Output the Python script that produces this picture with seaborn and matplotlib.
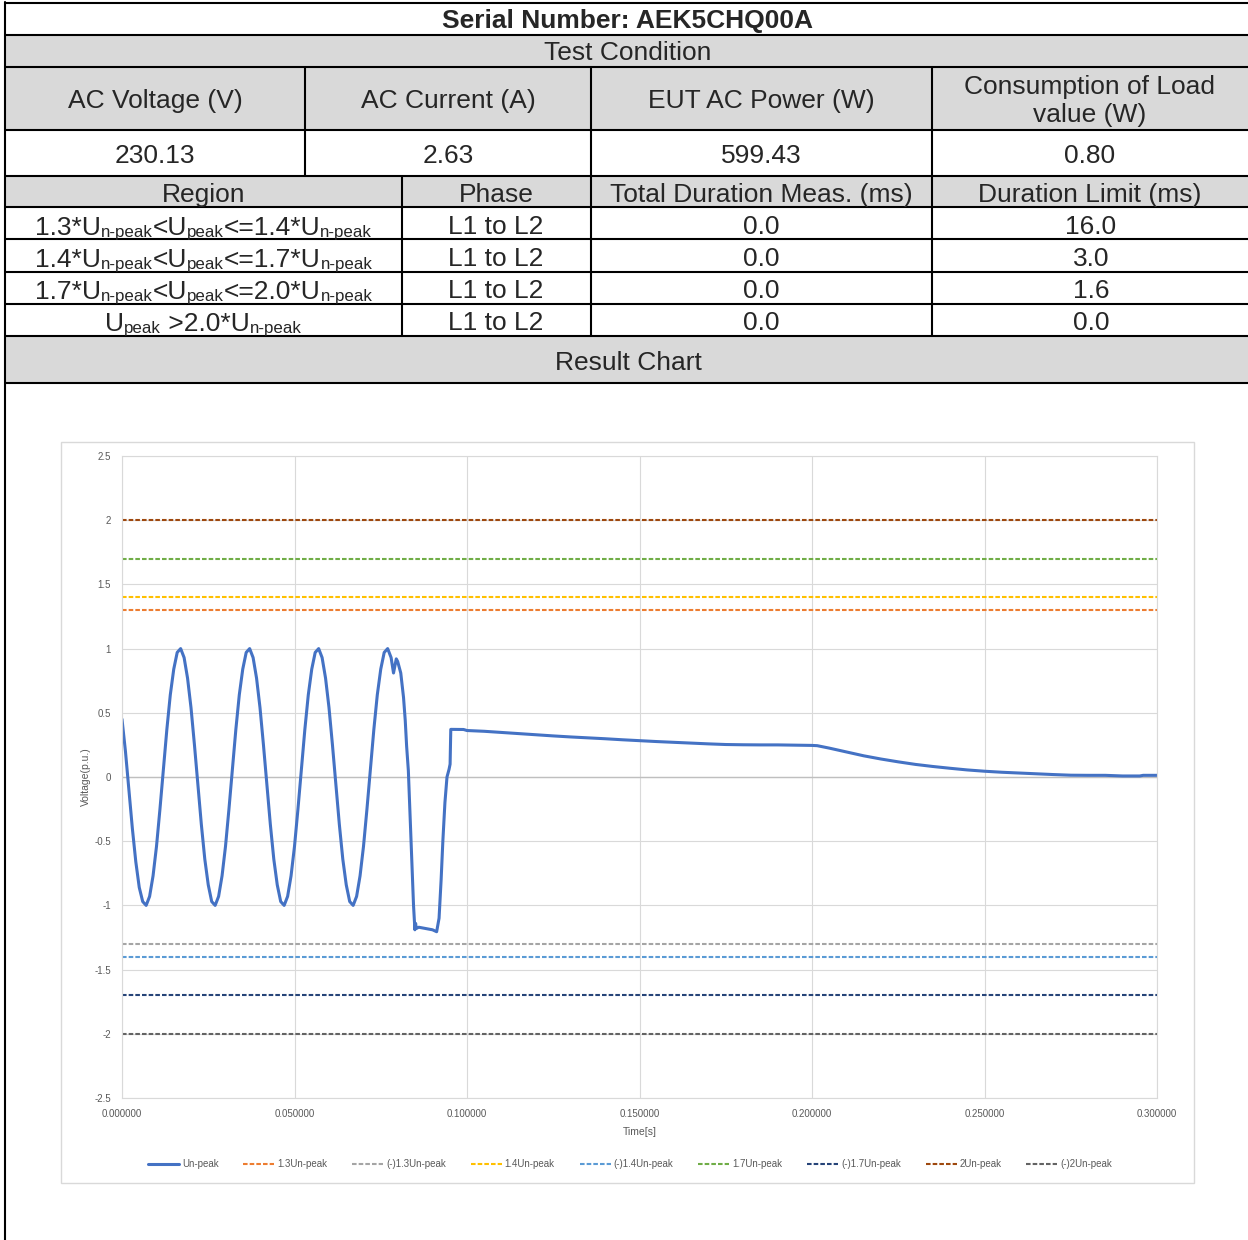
import numpy as np
import pandas as pd
import matplotlib
matplotlib.use("Agg")
import matplotlib.pyplot as plt
import seaborn as sns
from matplotlib.patches import Rectangle

# --- DATA ---
SERIAL = "AEK5CHQ00A"
COND_HEADERS = ["AC Voltage (V)", "AC Current (A)", "EUT AC Power (W)", "Consumption of Load\nvalue (W)"]
COND_VALUES = ["230.13", "2.63", "599.43", "0.80"]
RESULT_HEADERS = ["Region", "Phase", "Total Duration Meas. (ms)", "Duration Limit (ms)"]
# region labels as (text, is_subscript) fragments
REGIONS = [
    [("1.3*U", 0), ("n-peak", 1), ("<U", 0), ("peak", 1), ("<=1.4*U", 0), ("n-peak", 1)],
    [("1.4*U", 0), ("n-peak", 1), ("<U", 0), ("peak", 1), ("<=1.7*U", 0), ("n-peak", 1)],
    [("1.7*U", 0), ("n-peak", 1), ("<U", 0), ("peak", 1), ("<=2.0*U", 0), ("n-peak", 1)],
    [("U", 0), ("peak", 1), (" >2.0*U", 0), ("n-peak", 1)],
]
PHASES = ["L1 to L2", "L1 to L2", "L1 to L2", "L1 to L2"]
DURATION_MEAS = ["0.0", "0.0", "0.0", "0.0"]
DURATION_LIMIT = ["16.0", "3.0", "1.6", "0.0"]

TIME_S = [
    0.000, 0.001, 0.002, 0.003, 0.004, 0.005, 0.006, 0.007, 0.008, 0.009,
    0.010, 0.011, 0.012, 0.013, 0.014, 0.015, 0.016, 0.017, 0.018, 0.019,
    0.020, 0.021, 0.022, 0.023, 0.024, 0.025, 0.026, 0.027, 0.028, 0.029,
    0.030, 0.031, 0.032, 0.033, 0.034, 0.035, 0.036, 0.037, 0.038, 0.039,
    0.040, 0.041, 0.042, 0.043, 0.044, 0.045, 0.046, 0.047, 0.048, 0.049,
    0.050, 0.051, 0.052, 0.053, 0.054, 0.055, 0.056, 0.057, 0.058, 0.059,
    0.060, 0.061, 0.062, 0.063, 0.064, 0.065, 0.066, 0.067, 0.068, 0.069,
    0.070, 0.071, 0.072, 0.073, 0.074, 0.075, 0.076, 0.077, 0.078,
    0.0787, 0.0795, 0.0799, 0.0808, 0.0816, 0.0821, 0.0825, 0.0830, 0.0838, 0.0845,
    0.0849, 0.0851, 0.0853, 0.0860, 0.0880, 0.0900, 0.0912,
    0.0919, 0.0925, 0.0930, 0.0936, 0.0942, 0.0948, 0.0951, 0.0953,
    0.0990, 0.1000, 0.1050, 0.1100, 0.1150, 0.1200, 0.1250, 0.1300, 0.1350, 0.1400,
    0.1450, 0.1500, 0.1550, 0.1600, 0.1650, 0.1700, 0.1750, 0.1800, 0.1850, 0.1900,
    0.1950, 0.2000, 0.2015, 0.2050, 0.2100, 0.2150, 0.2200, 0.2250, 0.2300, 0.2350,
    0.2400, 0.2450, 0.2500, 0.2550, 0.2600, 0.2650, 0.2700, 0.2750, 0.2800, 0.2850,
    0.2900, 0.2950, 0.2960, 0.3000,
]
UN_PEAK = [
    0.45, 0.20, -0.10, -0.40, -0.66, -0.86, -0.97, -1.00, -0.93, -0.77,
    -0.54, -0.25, 0.06, 0.37, 0.64, 0.84, 0.97, 1.00, 0.93, 0.77,
    0.54, 0.25, -0.06, -0.37, -0.64, -0.84, -0.97, -1.00, -0.93, -0.77,
    -0.54, -0.25, 0.06, 0.37, 0.64, 0.84, 0.97, 1.00, 0.93, 0.77,
    0.54, 0.25, -0.06, -0.37, -0.64, -0.84, -0.97, -1.00, -0.93, -0.77,
    -0.54, -0.25, 0.06, 0.37, 0.64, 0.84, 0.97, 1.00, 0.93, 0.77,
    0.54, 0.25, -0.06, -0.37, -0.64, -0.84, -0.97, -1.00, -0.93, -0.77,
    -0.54, -0.25, 0.06, 0.37, 0.64, 0.84, 0.97, 1.00, 0.93,
    0.81, 0.92, 0.90, 0.81, 0.62, 0.44, 0.24, 0.05, -0.50, -1.00,
    -1.19, -1.14, -1.18, -1.17, -1.18, -1.19, -1.205,
    -1.10, -0.80, -0.50, -0.20, 0.00, 0.06, 0.10, 0.371,
    0.370, 0.362, 0.356, 0.347, 0.338, 0.329, 0.320, 0.312, 0.305, 0.298,
    0.290, 0.283, 0.276, 0.270, 0.264, 0.258, 0.253, 0.251, 0.250, 0.250,
    0.248, 0.246, 0.244, 0.225, 0.195, 0.165, 0.140, 0.118, 0.098, 0.082,
    0.068, 0.055, 0.045, 0.037, 0.031, 0.025, 0.019, 0.014, 0.013, 0.013,
    0.008, 0.008, 0.013, 0.013,
]

LIMIT_NAMES = ["1.3Un-peak", "(-)1.3Un-peak", "1.4Un-peak", "(-)1.4Un-peak",
               "1.7Un-peak", "(-)1.7Un-peak", "2Un-peak", "(-)2Un-peak"]
LIMIT_LEVELS = [1.3, -1.3, 1.4, -1.4, 1.7, -1.7, 2.0, -2.0]
LIMIT_COLORS = ["#ed7d31", "#a5a5a5", "#ffc000", "#5b9bd5",
                "#70ad47", "#264478", "#9e480e", "#636363"]
X_RANGE = [0.0, 0.3]
X_TICKS = [0.0, 0.05, 0.10, 0.15, 0.20, 0.25, 0.30]
Y_TICKS = [-2.5, -2.0, -1.5, -1.0, -0.5, 0.0, 0.5, 1.0, 1.5, 2.0, 2.5]

W, H = 1248, 1240
GRAY = "#d9d9d9"
FS = 19
TXT = "#595959"

sns.set_style("white")
plt.rcParams["font.family"] = ["Liberation Sans", "DejaVu Sans"]

fig = plt.figure(figsize=(W / 100, H / 100), dpi=100)

# background axes in pixel coords (y down) for the report table
tab = fig.add_axes([0, 0, 1, 1])
tab.set_xlim(0, W)
tab.set_ylim(H, 0)
tab.axis("off")

for y0, y1 in [(35, 67), (67, 130), (176, 207), (336, 383)]:
    tab.add_patch(Rectangle((5, y0), W - 5, y1 - y0, color=GRAY, lw=0))

LW = 1.5
for y in [3, 35, 67, 130, 176, 207, 239, 272, 304, 336, 383]:
    tab.plot([5, W], [y, y], color="black", lw=LW, solid_capstyle="butt")
tab.plot([5, 5], [2, H], color="black", lw=LW)
for x in [305, 591, 932]:
    tab.plot([x, x], [67, 176], color="black", lw=LW)
for x in [402, 591, 932]:
    tab.plot([x, x], [176, 336], color="black", lw=LW)

tab.text(628, 21, f"Serial Number: {SERIAL}", ha="center", va="center",
         fontsize=FS, fontweight="bold")
tab.text(628, 53, "Test Condition", ha="center", va="center", fontsize=FS)
tab.text(628, 363, "Result Chart", ha="center", va="center", fontsize=FS)

top_cols = [5, 305, 591, 932, W]
bot_cols = [5, 402, 591, 932, W]
for i in range(4):
    cx = (top_cols[i] + top_cols[i + 1]) / 2
    tab.text(cx, 101, COND_HEADERS[i], ha="center", va="center", fontsize=FS, linespacing=1.25)
    tab.text(cx, 156, COND_VALUES[i], ha="center", va="center", fontsize=FS)
    bx = (bot_cols[i] + bot_cols[i + 1]) / 2
    tab.text(bx, 195, RESULT_HEADERS[i], ha="center", va="center", fontsize=FS)

row_mid = [224, 256, 288, 320]
for r in range(4):
    tab.text(496, row_mid[r] + 3, PHASES[r], ha="center", va="center", fontsize=FS)
    tab.text(761, row_mid[r] + 3, DURATION_MEAS[r], ha="center", va="center", fontsize=FS)
    tab.text(1091, row_mid[r] + 3, DURATION_LIMIT[r], ha="center", va="center", fontsize=FS)

# region labels with subscripts, laid out piece by piece
renderer = fig.canvas.get_renderer()
for r, parts in enumerate(REGIONS):
    pieces = []
    for s, sub in parts:
        t = tab.text(0, 0, s, fontsize=FS * 0.64 if sub else FS, ha="left", va="baseline")
        w = t.get_window_extent(renderer).width
        pieces.append((t, w, sub))
    total = sum(p[1] for p in pieces)
    x = 203.5 - total / 2
    base = row_mid[r] + 11
    for t, w, sub in pieces:
        t.set_position((x, base + (2 if sub else 0)))
        x += w

# chart frame
tab.add_patch(Rectangle((61, 442), 1194 - 61, 1183 - 442, fill=False, ec=GRAY, lw=1))

# --- CHART ---
ax = fig.add_axes([122 / W, 1 - 1098 / H, (1157 - 122) / W, (1098 - 456) / H])
ax.set_facecolor("none")

for name, lvl, col in zip(LIMIT_NAMES, LIMIT_LEVELS, LIMIT_COLORS):
    sns.lineplot(x=X_RANGE, y=[lvl, lvl], ax=ax, color=col, lw=1.5,
                 linestyle=(0, (2.2, 1.0)), label=name)
sns.lineplot(x=TIME_S, y=UN_PEAK, ax=ax, color="#4472c4", lw=2.2,
             sort=False, estimator=None, label="Un-peak")

ax.axhline(0, color="#bfbfbf", lw=1, zorder=1)
ax.set_xlim(0, 0.3)
ax.set_ylim(-2.5, 2.5)
ax.set_xticks(X_TICKS)
ax.set_xticklabels([f"{v:.6f}" for v in X_TICKS])
ax.set_yticks(Y_TICKS)
ax.set_yticklabels([f"{v:g}" for v in Y_TICKS])
ax.tick_params(length=0, labelsize=7, colors=TXT)
ax.tick_params(axis="x", pad=8)
ax.tick_params(axis="y", pad=8)
ax.grid(True, color=GRAY, lw=0.8)
ax.set_axisbelow(True)
for sp in ax.spines.values():
    sp.set_color(GRAY)
    sp.set_linewidth(0.8)
ax.set_xlabel("")
ax.set_ylabel("")

tab.text(86, 777, "Voltage(p.u.)", rotation=90, ha="center", va="center", fontsize=7.5, color=TXT)
tab.text(640, 1132, "Time[s]", ha="center", va="center", fontsize=7.5, color=TXT)

# legend: Un-peak first as in the report
h, l = ax.get_legend_handles_labels()
order = [l.index("Un-peak")] + [l.index(n) for n in LIMIT_NAMES]
ax.legend([h[i] for i in order], [l[i] for i in order], ncol=9, frameon=False,
          loc="center", bbox_to_anchor=(630 / W, 1 - 1164 / H), bbox_transform=fig.transFigure,
          fontsize=7, labelcolor=TXT, handlelength=3.2, handletextpad=0.3, columnspacing=2.55)

fig.savefig("out.png", dpi=100, facecolor="white")
